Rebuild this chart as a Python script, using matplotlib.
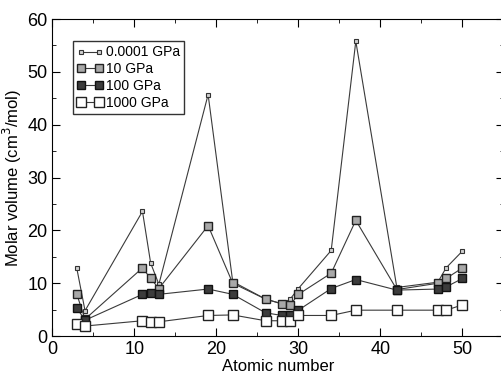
import numpy as np
import matplotlib
matplotlib.use("Agg")
import matplotlib.pyplot as plt
from matplotlib.ticker import MultipleLocator

plt.rcParams['font.family'] = ['Liberation Sans', 'DejaVu Sans']

z = [3, 4, 11, 12, 13, 19, 22, 26, 28, 29, 30, 34, 37, 42, 47, 48, 50]
v_00001 = [12.8, 4.8, 23.6, 13.8, 9.8, 45.7, 10.3, 7.0, 6.1, 7.0, 9.0, 16.2, 55.8, 9.2, 10.2, 12.9, 16.1]
v_10 = [7.9, 3.2, 12.9, 10.9, 9.0, 20.9, 10.0, 7.0, 6.1, 5.9, 7.9, 11.9, 21.9, 8.8, 10.0, 10.9, 12.9]
v_100 = [5.3, 3.0, 7.9, 8.1, 7.9, 8.9, 7.9, 4.4, 3.9, 3.9, 4.9, 9.0, 10.7, 8.7, 8.9, 9.3, 10.9]
v_1000 = [2.3, 1.9, 2.9, 2.7, 2.7, 3.9, 4.0, 2.9, 2.9, 2.9, 3.9, 3.9, 4.9, 4.9, 4.9, 4.9, 5.9]

fig = plt.figure(figsize=(5.02, 3.73), dpi=100)
ax = fig.add_axes([0.104, 0.099, 0.899, 0.850])

lc = '#3a3a3a'
ax.plot(z, v_00001, '-s', color=lc, lw=0.8, ms=3, mfc='#d0d0d0', mec='#333333', mew=0.8, label='0.0001 GPa')
ax.plot(z, v_10, '-s', color=lc, lw=0.8, ms=5.3, mfc='#a8a8a8', mec='#222222', mew=1.0, label='10 GPa')
ax.plot(z, v_100, '-s', color=lc, lw=0.8, ms=5.3, mfc='#3c3c3c', mec='#111111', mew=1.0, label='100 GPa')
ax.plot(z, v_1000, '-s', color=lc, lw=0.8, ms=6.5, mfc='white', mec='#222222', mew=1.0, label='1000 GPa')

ax.set_xlim(0, 55)
ax.set_ylim(0, 60)
ax.xaxis.set_major_locator(MultipleLocator(10))
ax.xaxis.set_minor_locator(MultipleLocator(5))
ax.yaxis.set_major_locator(MultipleLocator(10))
ax.yaxis.set_minor_locator(MultipleLocator(5))
ax.tick_params(which='both', direction='in', top=True, right=True, labelsize=13)
ax.tick_params(which='major', length=6)
ax.tick_params(which='minor', length=3)

ax.set_xlabel('Atomic number', fontsize=12, labelpad=1)
ax.set_ylabel('Molar volume (cm$^3$/mol)', fontsize=12, labelpad=2)

ax.legend(loc='upper left', bbox_to_anchor=(0.045, 0.93), fontsize=10, frameon=True,
          fancybox=False, edgecolor='black', handlelength=1.9, handletextpad=0.2,
          borderpad=0.3, labelspacing=0.2, borderaxespad=0, numpoints=2)

fig.savefig('out.png', dpi=100)
